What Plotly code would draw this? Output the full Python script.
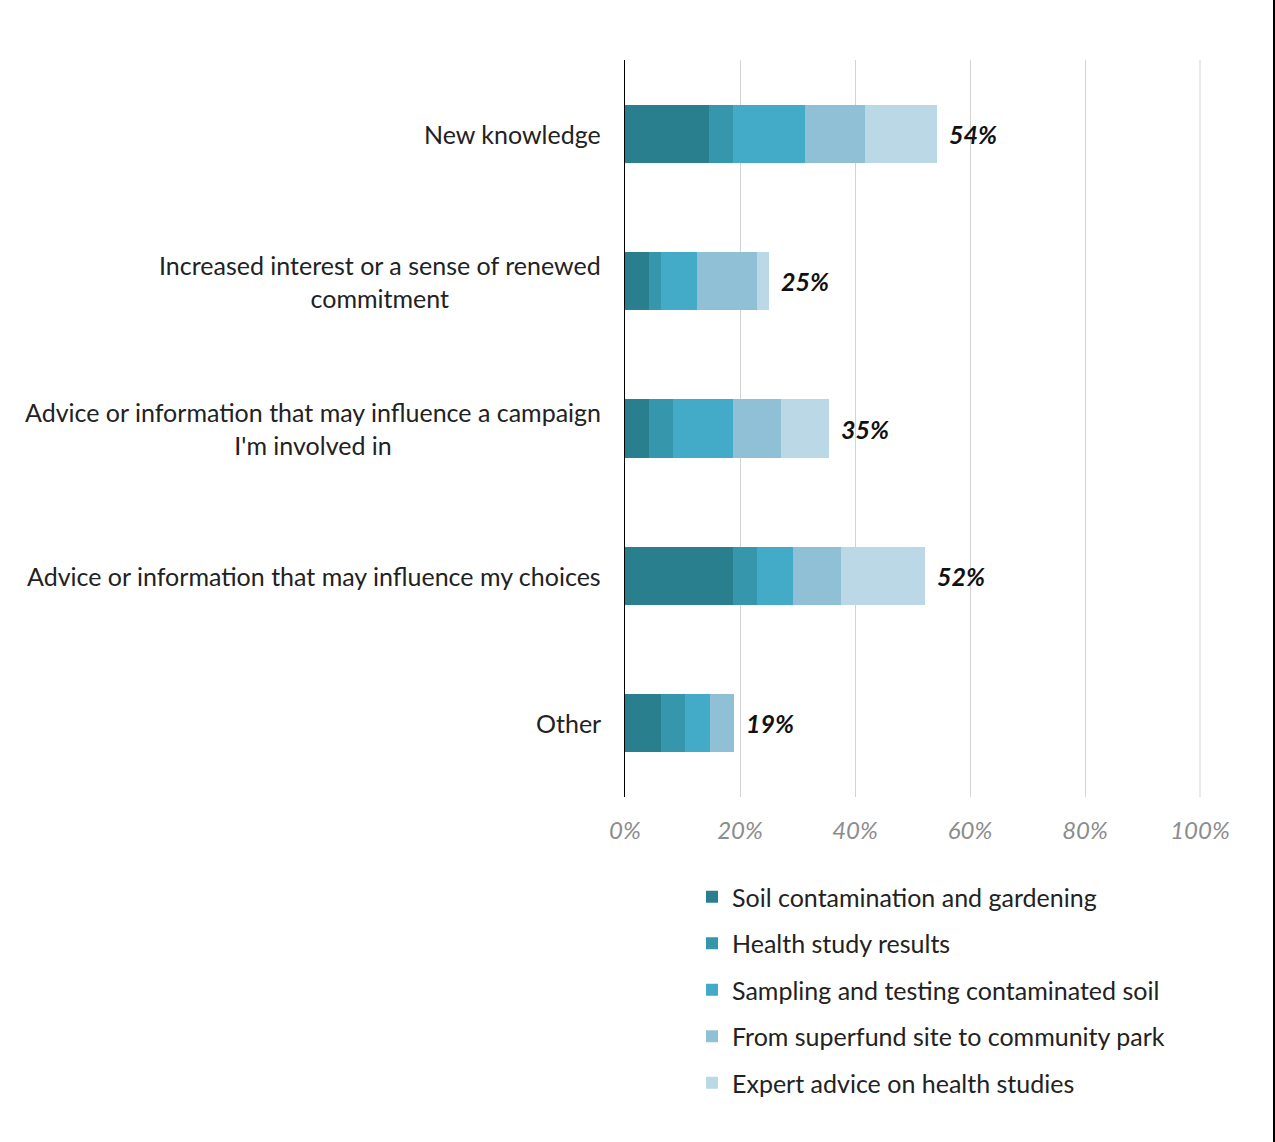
import plotly.graph_objects as go

categories = [
    "New knowledge",
    "Increased interest or a sense of renewed<br>commitment",
    "Advice or information that may influence a campaign<br>I'm involved in",
    "Advice or information that may influence my choices",
    "Other",
]
series_names = [
    "Soil contamination and gardening",
    "Health study results",
    "Sampling and testing contaminated soil",
    "From superfund site to community park",
    "Expert advice on health studies",
]
# values in percent
soil_gardening = [14.6, 4.2, 4.2, 18.8, 6.3]
health_results = [4.2, 2.1, 4.2, 4.2, 4.2]
sampling_testing = [12.5, 6.3, 10.4, 6.3, 4.2]
superfund_park = [10.4, 10.4, 8.3, 8.3, 4.2]
expert_advice = [12.5, 2.1, 8.3, 14.6, 0.0]
totals = [54, 25, 35, 52, 19]
x_ticks = [0, 20, 40, 60, 80, 100]
x_tick_labels = ["0%", "20%", "40%", "60%", "80%", "100%"]

colors = ["#2A7F8F", "#3596AC", "#43ABC8", "#8FC0D6", "#BAD8E5"]
series_values = [soil_gardening, health_results, sampling_testing, superfund_park, expert_advice]

FONT = "Lato"
GRID = "#D3D3D3"
ypos = list(range(len(categories)))

fig = go.Figure()
for name, vals, col in zip(series_names, series_values, colors):
    fig.add_trace(go.Bar(
        y=ypos, x=vals, name=name, orientation="h",
        marker=dict(color=col, line=dict(width=0)),
        width=0.395, legendgroup=name,
        hoverinfo="skip",
    ))

annotations = []
for i, (cat, tot) in enumerate(zip(categories, totals)):
    stack_end = sum(s[i] for s in series_values)
    annotations.append(dict(
        x=stack_end, y=i, xref="x", yref="y", text=f"{tot}%",
        showarrow=False, xanchor="left", yanchor="middle", xshift=10,
        font=dict(family=FONT, size=25, color="#111111", weight="bold", style="italic"),
    ))
    annotations.append(dict(
        x=0, y=i, xref="paper", yref="y", text=cat,
        showarrow=False, xanchor="right", yanchor="middle", xshift=-22,
        align="center",
        font=dict(family=FONT, size=25, color="#222222"),
    ))

plot_w = 576
fig.update_layout(
    width=1275, height=1142,
    barmode="stack",
    bargap=0.6,
    plot_bgcolor="white", paper_bgcolor="white",
    margin=dict(l=625, r=1275 - 625 - plot_w, t=60, b=345),
    xaxis=dict(
        range=[0, 100 * plot_w / 575], tickvals=x_ticks, ticktext=x_tick_labels,
        showgrid=True, gridcolor=GRID, gridwidth=1,
        zeroline=False, showline=False,
        tickfont=dict(family=FONT, size=24, color="#8C8C8C", style="italic"),
        ticks="outside", ticklen=12, tickcolor="rgba(0,0,0,0)",
        fixedrange=True,
    ),
    yaxis=dict(
        range=[len(categories) - 0.5, -0.5],
        showticklabels=False, showgrid=False, zeroline=False,
        showline=True, linecolor="#000000", linewidth=1,
        fixedrange=True,
    ),
    legend=dict(
        x=(692 - 625) / plot_w, y=(797 - 874) / 737,
        xanchor="left", yanchor="top",
        traceorder="grouped", tracegroupgap=11,
        font=dict(family=FONT, size=25, color="#222222"),
        bgcolor="rgba(0,0,0,0)",
    ),
    annotations=annotations,
    shapes=[
        dict(
            type="line", xref="x", yref="paper",
            x0=x_ticks[-1], x1=x_ticks[-1], y0=0, y1=1,
            line=dict(color=GRID, width=1), layer="below",
        ),
        dict(
            type="rect", xref="paper", yref="paper",
            x0=(1273 - 625) / plot_w, x1=(1276 - 625) / plot_w,
            y0=(797 - 1142) / 737, y1=797 / 737,
            fillcolor="#000000", line=dict(width=0), layer="above",
        ),
    ],
    showlegend=True,
)

fig.write_html("out.html")
